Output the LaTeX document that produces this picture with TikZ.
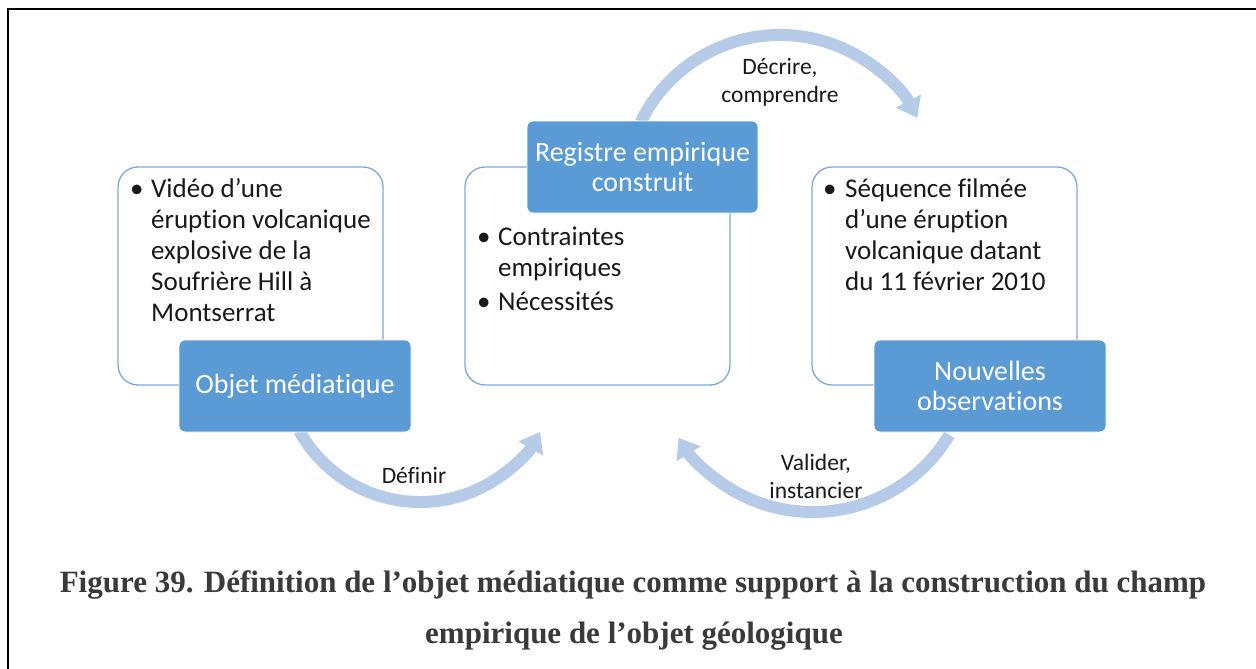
\documentclass[tikz,border=0pt]{standalone}
\usepackage{fontspec}
\setmainfont{Carlito}[Ligatures=NoCommon]
\newfontfamily\capfont{Liberation Serif}
\usetikzlibrary{arrows.meta}
\definecolor{hdrblue}{RGB}{91,155,213}
\definecolor{lineblue}{RGB}{126,168,220}
\definecolor{arrblue}{RGB}{182,203,232}
\definecolor{captext}{RGB}{58,58,58}
\definecolor{bodytext}{RGB}{25,25,25}
\newcommand{\bul}{\hspace*{-3pt}•}
\tikzset{
  outl/.style={draw=lineblue, line width=1.3pt, fill=white, rounded corners=20pt, inner sep=0pt},
  hdr/.style={fill=hdrblue, draw=white, line width=0.8pt, rounded corners=6pt, text=white, align=center, inner sep=0pt,
    font=\fontsize{28}{30}\selectfont},
  body/.style={anchor=base west, inner sep=0pt, text=bodytext, font=\fontsize{27}{31}\selectfont},
  lbl/.style={inner sep=0pt, text=bodytext, align=center, font=\fontsize{23.5}{28}\selectfont},
  arr/.style={draw=arrblue, line width=12pt, -{Triangle[width=27pt,length=19pt]}},
  captionstyle/.style={inner sep=0pt, text=captext, font=\capfont\bfseries\fontsize{31}{34}\selectfont}
}
\begin{document}
\begin{tikzpicture}[x=1pt,y=-1pt]
\useasboundingbox (0,0) rectangle (1256,669);
\fill[white] (0,0) rectangle (1256,669);
% frame (left and top visible)
\draw[line width=2pt, black] (8.3,669) -- (8.3,9.3) -- (1256,9.3);

% arrows
\coordinate (s1) at ({420+138*cos(151)},{364+138*sin(151)});
\draw[arr] (s1) arc[start angle=151, end angle=29.5, radius=138];
\coordinate (s2) at ({780+155*cos(206)},{190+155*sin(206)});
\draw[arr] (s2) arc[start angle=206, end angle=332.3, radius=155];
\coordinate (s3) at ({813+159*cos(31)},{353+159*sin(31)});
\draw[arr] (s3) arc[start angle=31, end angle=147.8, radius=159];

% outlined boxes
\node[outl, minimum width=265pt, minimum height=218pt] (o1) at (250.5,276) {};
\node[outl, minimum width=265pt, minimum height=218pt] (o2) at (597.5,276) {};
\node[outl, minimum width=265pt, minimum height=218pt] (o3) at (944.5,276) {};

% header boxes
\node[hdr, minimum width=232pt, minimum height=92pt] (h1) at (295,386) {Objet médiatique};
\node[hdr, minimum width=231pt, minimum height=92pt] (h2) at (642.5,167) {Registre empirique\\construit};
\node[hdr, minimum width=232pt, minimum height=92pt] (h3) at (990,386) {Nouvelles\\observations};

% body texts
\node[body] (t1) at (133,197) {\begin{tabular}[t]{@{}p{18pt}@{}l@{}}\bul&Vidéo d’une\\&éruption volcanique\\&explosive de la\\&Soufrière Hill à\\&Montserrat\end{tabular}};
\node[body] (t2) at (480,245) {\begin{tabular}[t]{@{}p{18pt}@{}l@{}}\bul&Contraintes\\&empiriques\\[3pt]\bul&Nécessités\end{tabular}};
\node[body] (t3) at (826,197) {\begin{tabular}[t]{@{}p{19pt}@{}l@{}}\bul&Séquence filmée\\&d’une éruption\\&volcanique datant\\&du 11 février 2010\end{tabular}};

% arrow labels
\node[lbl] (l1) at (414,475) {Définir};
\node[lbl] (l2) at (780,82) {Décrire,\\comprendre};
\node[lbl] (l3) at (816,476) {Valider,\\instancier};

% caption
\node[captionstyle] (c1) at (633,585) {Figure 39. Définition de l’objet médiatique comme support à la construction du champ};
\node[captionstyle] (c2) at (634,636) {empirique de l’objet géologique};
\end{tikzpicture}
\end{document}
